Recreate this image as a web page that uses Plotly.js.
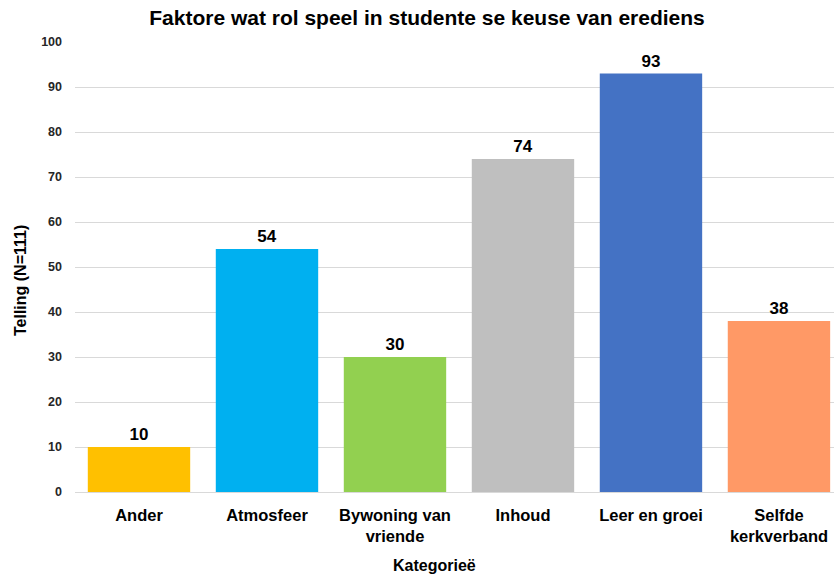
<!DOCTYPE html>
<html><head><meta charset="utf-8">
<script src="https://cdn.plot.ly/plotly-3.0.1.min.js"></script>
<style>body{margin:0;}#chart{width:834px;height:578px;}</style>
</head><body><div id="chart"></div>
<script>
const categories = ["Ander", "Atmosfeer", "Bywoning van<br>vriende", "Inhoud", "Leer en groei", "Selfde<br>kerkverband"];
const counts = [10, 54, 30, 74, 93, 38];
const colors = ["#FFC000", "#00B0F0", "#92D050", "#BFBFBF", "#4472C4", "#FF9966"];
const yTicks = [0,10,20,30,40,50,60,70,80,90,100];

const font = "Liberation Sans, Arial, sans-serif";
Plotly.newPlot("chart", [{
  type: "bar", x: categories, y: counts,
  marker: {color: colors},
  text: counts.map(String), textposition: "outside", cliponaxis: false,
  textfont: {family: font, size: 17, color: "#000", weight: "bold"},
  hoverinfo: "none"
}], {
  width: 834, height: 578,
  margin: {l: 75, r: 0, t: 42, b: 86},
  paper_bgcolor: "#fff", plot_bgcolor: "#fff",
  bargap: 0.2,
  showlegend: false,
  title: {text: "<b>Faktore wat rol speel in studente se keuse van erediens</b>", x: 0.512, xanchor: "center", y: 0.97, yanchor: "middle",
    font: {family: font, size: 21, color: "#000"}},
  xaxis: {type: "category", range: [-0.5, 5.43], tickfont: {family: font, size: 16.5, color: "#000", weight: "bold"},
    showline: false, ticks: "", showgrid: false, ticklabelstandoff: 11},
  yaxis: {range: [0, 100], tickvals: yTicks, ticktext: yTicks.map(String),
    tickfont: {family: font, size: 12.5, color: "#262626", weight: "bold"},
    gridcolor: "#D9D9D9", gridwidth: 1, zeroline: true, zerolinecolor: "#D9D9D9", zerolinewidth: 1,
    ticks: "", ticklabelstandoff: 12},
  annotations: [
    {text: "<b>Kategorieë</b>", xref: "paper", yref: "paper", x: 0.473, y: -0.164,
      xanchor: "center", yanchor: "middle", showarrow: false, font: {family: font, size: 16, color: "#000"}},
    {text: "<b>Telling (N=111)</b>", xref: "paper", yref: "paper", x: -0.0725, y: 0.471, textangle: -90,
      xanchor: "center", yanchor: "middle", showarrow: false, font: {family: font, size: 16, color: "#000"}}
  ]
}, {displayModeBar: false, staticPlot: true});
</script></body></html>
